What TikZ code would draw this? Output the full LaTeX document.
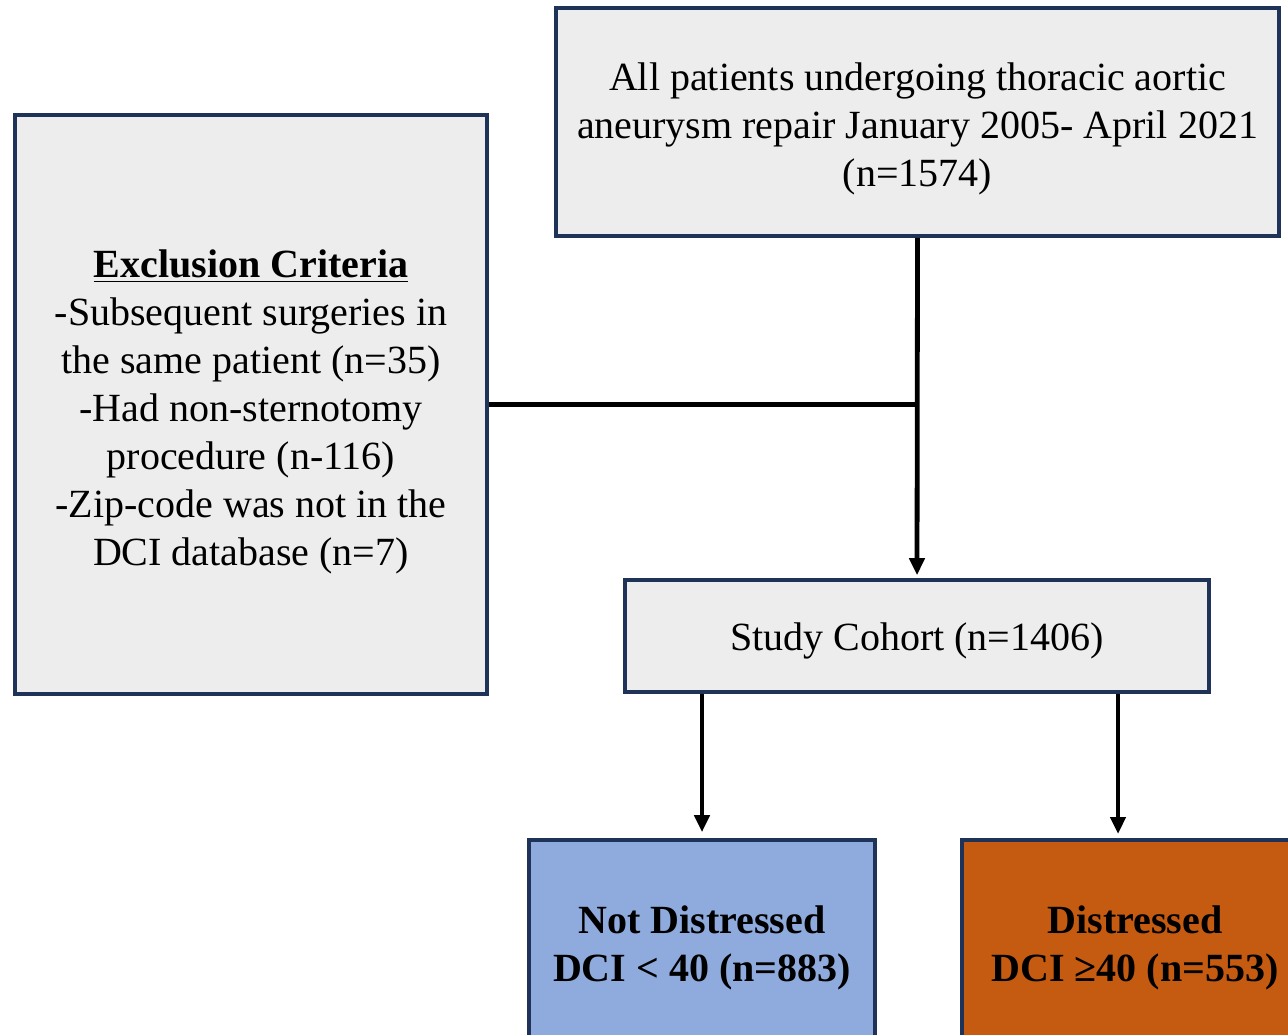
\documentclass[tikz,border=0pt]{standalone}
\usepackage{fontspec}
\setmainfont{Liberation Serif}
\usepackage{tikz}
\usetikzlibrary{arrows.meta}

\definecolor{boxline}{HTML}{1F3358}
\definecolor{boxgray}{HTML}{EDEDED}
\definecolor{boxblue}{HTML}{8FAADC}
\definecolor{boxorange}{HTML}{C55A11}

% strut that pushes a node's first line down a little
\newcommand{\lowerfirst}[1]{\rule{0pt}{#1}}

\begin{document}
\begin{tikzpicture}[x=0.5pt,y=-0.5pt,>={Triangle[width=7.5pt,length=8.5pt]},
  flowbox/.style={draw=boxline, line width=1.8pt, rectangle, fill=boxgray, align=center, inner sep=0pt, font=\fontsize{20}{24}\selectfont},
  flowline/.style={line width=2.4pt}]
\clip (0,0) rectangle (1288,1034);

\node[flowbox, minimum width=361.5pt, minimum height=114pt] (all) at (917.5,122) {\lowerfirst{21pt}All patients undergoing thoracic aortic\\aneurysm repair January 2005- April 2021\\(n=1574)};
\node[flowbox, minimum width=236pt, minimum height=289.5pt] (excl) at (251,404.5) {\lowerfirst{21.5pt}\textbf{\underline{Exclusion Criteria}}\\-Subsequent surgeries in\\the same patient (n=35)\\-Had non-sternotomy\\procedure (n-116)\\-Zip-code was not in the\\DCI database (n=7)};
\node[flowbox, minimum width=292pt, minimum height=56pt] (cohort) at (917,636) {\lowerfirst{19pt}Study Cohort (n=1406)};
\node[flowbox, fill=boxblue, minimum width=173pt, minimum height=102pt, font=\fontsize{20}{24}\selectfont\bfseries] (notd) at (702,942) {\lowerfirst{19.5pt}Not Distressed\\DCI < 40 (n=883)};
\node[flowbox, fill=boxorange, minimum width=173pt, minimum height=102pt, font=\fontsize{20}{24}\selectfont\bfseries] (dist) at (1135,942) {\lowerfirst{19.5pt}Distressed\\DCI ≥40 (n=553)};

\coordinate (join) at (all.south |- excl.east);
\draw[flowline, ->, shorten >=1.5pt] (all.south) -- (cohort.north);
\draw[flowline] (excl.east) -- (join);
\draw[flowline, ->, shorten >=3pt] (cohort.south -| notd.north) -- (notd.north);
\draw[flowline, ->, shorten >=3pt] (cohort.south -| 1118,0) -- (1118,840);
\end{tikzpicture}
\end{document}
